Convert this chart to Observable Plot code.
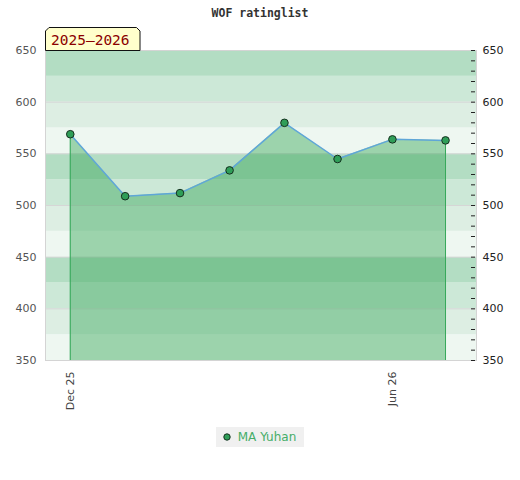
<!DOCTYPE html>
<html>
<head>
<meta charset="utf-8">
<script src="https://cdn.jsdelivr.net/npm/d3@7"></script>
<script src="https://cdn.jsdelivr.net/npm/@observablehq/plot@0.6"></script>
<style>
  html, body { margin: 0; padding: 0; background: #fff; }
  #wrap { position: relative; width: 520px; height: 480px; padding-top: 26px; box-sizing: border-box; }
  #title { position: absolute; left: 0; top: 6px; width: 520px; line-height: 14px; text-align: center; font: bold 11.5px "DejaVu Sans Mono", monospace; color: #333; }
  #season { position: absolute; left: 45px; top: 27px; }
  #legend { display: flex; justify-content: center; margin-top: 1px; }
  #legend .box { display: flex; align-items: center; background: #f0f0f0; height: 20px; padding: 0 8px 0 7px; font: 12px "DejaVu Sans", sans-serif; color: #45ad68; }
  #legend svg { margin-right: 7px; }
  #chart svg { display: block; }
</style>
</head>
<body>
<div id="wrap">
  <div id="title">WOF ratinglist</div>
  <div id="chart"></div>
  <div id="legend"></div>
  <svg id="season" width="100" height="24">
    <path d="M0.5,23.5 V4 L4,0.5 H91.5 L95,4 V23.5 Z" fill="#ffffcc" stroke="#111" stroke-width="1"/>
    <text x="6" y="18" font-family="DejaVu Sans Mono, monospace" font-size="14.5" fill="#8b0000">2025–2026</text>
  </svg>
</div>
<script>
// ---- data ----
const playerName = "MA Yuhan";
const seasonLabel = "2025–2026";
const months = ["2025-12-01", "2026-01-01", "2026-02-01", "2026-03-01", "2026-04-01", "2026-05-01", "2026-06-01", "2026-07-01"];
const ratings = [569, 509, 512, 534, 580, 545, 564, 563];
const yTicks = [350, 400, 450, 500, 550, 600, 650];
const xTickDates = ["2025-12-01", "2026-06-01"];

// ---- build ----
const data = months.map((m, i) => ({date: new Date(m + "T00:00:00Z"), rating: ratings[i]}));
const ends = [data[0], data[data.length - 1]];
const bandStarts = d3.range(350, 650, 25);
const bandShades = ["#eef7f1", "#ddeee3", "#cce8d7", "#b3ddc3"];
const minorTicks = d3.range(350, 651, 10);

const chart = Plot.plot({
  width: 520,
  height: 400,
  marginTop: 24,
  marginBottom: 66,
  marginLeft: 45,
  marginRight: 44,
  style: {fontFamily: "DejaVu Sans, sans-serif", fontSize: "11px", background: "#fff"},
  x: {type: "utc", label: null, domain: [new Date("2025-11-17T00:00:00Z"), new Date("2026-07-18T12:00:00Z")]},
  y: {label: null, domain: [350, 650]},
  color: {type: "identity"},
  marks: [
    Plot.rectY(bandStarts, {y1: d => d, y2: d => d + 25, fill: (d, i) => bandShades[i % 4]}),
    Plot.ruleY(yTicks, {stroke: "#d6d6d6"}),
    Plot.areaY(data, {x: "date", y1: 350, y2: "rating", fill: "#3aa75b", fillOpacity: 0.46}),
    Plot.ruleX(ends, {x: "date", y1: 350, y2: "rating", stroke: "#36a85a", strokeWidth: 1}),
    Plot.line(data, {x: "date", y: "rating", stroke: "#5fa6d8", strokeWidth: 1.5}),
    Plot.dot(data, {x: "date", y: "rating", r: 3.8, fill: "#2f9e58", stroke: "#15301f", strokeWidth: 1}),
    Plot.frame({stroke: "#d4d4d4"}),
    Plot.tickY(minorTicks, {y: d => d, insetLeft: 426, insetRight: 1, stroke: "#222"}),
    Plot.axisY(yTicks, {anchor: "left", label: null, tickSize: 0, tickPadding: 9, fill: "#555", fontSize: 11}),
    Plot.axisY(yTicks, {anchor: "right", label: null, tickSize: 0, tickPadding: 6, fill: "#222", fontSize: 11}),
    Plot.axisX(xTickDates.map(s => new Date(s + "T00:00:00Z")), {label: null, tickFormat: "%b %y", tickRotate: -90, tickSize: 0, tickPadding: 11, fill: "#444", fontSize: 11})
  ]
});
document.getElementById("chart").appendChild(chart);

// legend
const legend = document.getElementById("legend");
const box = document.createElement("div");
box.className = "box";
box.innerHTML = '<svg width="8" height="8"><circle cx="4" cy="4" r="3.2" fill="#2f9e58" stroke="#15301f" stroke-width="1"/></svg>';
const span = document.createElement("span");
span.textContent = playerName;
box.appendChild(span);
legend.appendChild(box);
document.querySelector("#season text").textContent = seasonLabel;
</script>
</body>
</html>
